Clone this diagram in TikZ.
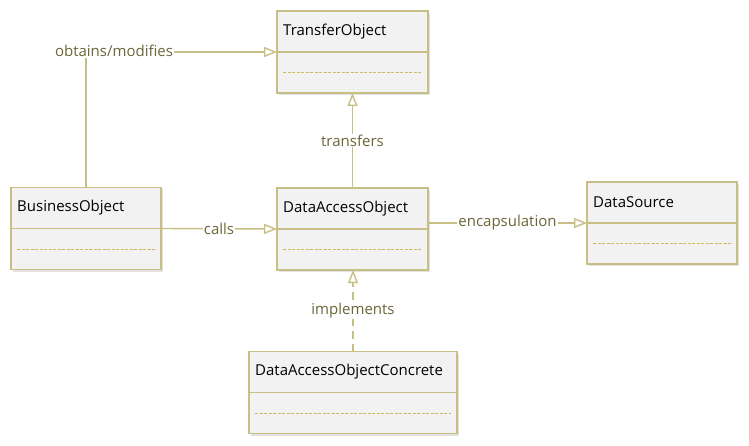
\documentclass[tikz,border=0pt]{standalone}
\usepackage{fontspec}
\setmainfont{Open Sans}
\usetikzlibrary{arrows.meta}
\definecolor{boxline}{HTML}{C8BF84}
\definecolor{boxfill}{HTML}{F2F2F2}
\definecolor{lbl}{HTML}{6B6638}
\definecolor{dashc}{HTML}{CDB960}
\definecolor{shadowc}{HTML}{E2E2E2}
\newcommand\umlclass[5]{%
  \fill[shadowc] (#2-#4/2+2,#3-41+2) rectangle (#2+#4/2+2,#3+41+2);
  \node[umlbox, minimum width=#4pt] (#1) at (#2,#3) {};
  \draw[boxline, line width=1.8pt] (#1.west) -- (#1.east);
  \draw[dashc, line width=1pt, dash pattern=on 3pt off 1.5pt] (#2-#4/2+6,#3+21) -- (#2+#4/2-6,#3+21);
  \node[anchor=west, inner sep=0pt, font=\fontsize{15}{17}\selectfont] at (#2-#4/2+6,#3-20.5) {#5};
}
\begin{document}
\begin{tikzpicture}[x=1pt,y=-1pt,
  umlbox/.style={draw=boxline, fill=boxfill, line width=1.8pt, minimum height=82pt, inner sep=0pt, outer sep=0pt, rectangle},
  conn/.style={draw=boxline, line width=1.4pt, -{Triangle[open, length=13pt, width=10pt, line width=1.4pt]}},
  lab/.style={fill=white, text=lbl, font=\fontsize{15}{17}\selectfont, inner sep=1pt}]
\useasboundingbox (0,0) rectangle (749,446);
\umlclass{TO}{352.5}{52}{151}{TransferObject}
\umlclass{BO}{86}{228.5}{150}{BusinessObject}
\umlclass{DAO}{352.5}{229}{151}{DataAccessObject}
\umlclass{DS}{662}{223}{150}{DataSource}
\umlclass{DAOC}{353}{392.5}{208}{DataAccessObjectConcrete}
\draw[conn] (BO.north) |- (TO.west);
\node[lab] (l1) at (114,51) {obtains/modifies};
\draw[conn] (DAO.north) -- node[lab] (l2) {transfers} (TO.south);
\draw[conn] (BO.east) -- node[lab] (l3) {calls} (DAO.west);
\draw[conn] (DAO.east |- DS.west) -- node[lab] (l4) {encapsulation} (DS.west);
\draw[conn, dash pattern=on 8pt off 5pt] (DAOC.north) -- node[lab] (l5) {implements} (DAOC.north |- DAO.south);
\end{tikzpicture}
\end{document}
